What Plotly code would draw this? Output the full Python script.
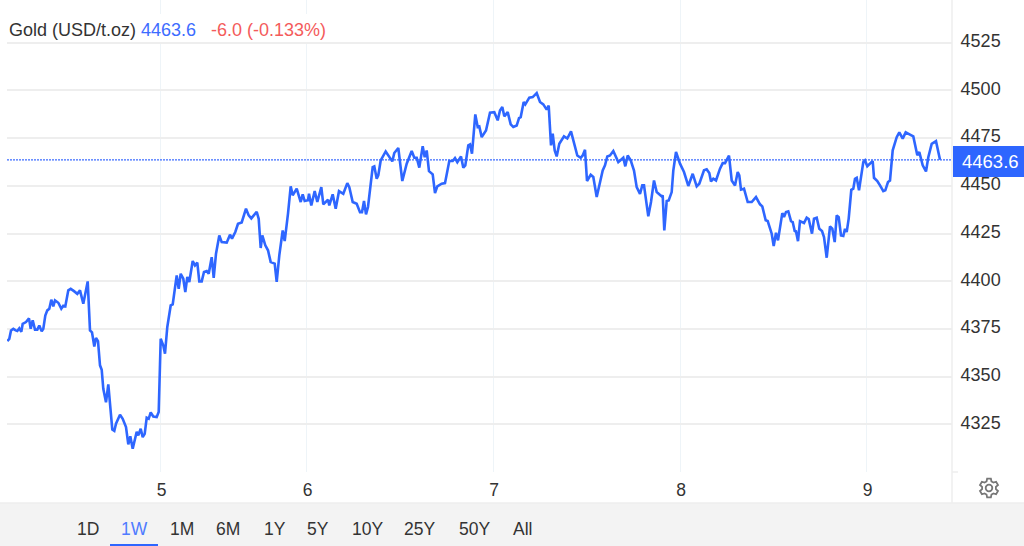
import math
import plotly.graph_objects as go

session_pos = [7.3,9.3,11,13.3,15.7,17.3,19.3,21.3,22.7,26,29,30.7,32.7,35,37.3,39.3,41.7,43.3,45.3,47.3,49.3,51.3,53.3,55,58.3,61.3,63.3,65.3,68.3,70.7,74,77.3,80,83.3,87.7,90,92,94.3,96,98,100,101.7,103.3,106,108.3,110.7,112.3,114.3,116,120,122.7,126,128.3,130.3,132.7,136.7,138.3,140.7,142.7,144.7,146.7,148.7,150.7,153.3,156.7,158.7,160.7,163.3,165,
167.3,170.7,172.7,176.7,178.7,180.7,183.3,185.3,187.3,189.3,192.7,195,197.3,199.3,201.7,204,206.7,208.7,211.7,213.7,216,219.3,221.7,226.7,230,232,235.3,238,241.7,243.3,246,248.7,251.3,256.7,258.7,260.7,262.3,265.3,268,270.7,274.7,276.7,279.3,282.7,284.7,288,290.7,292.7,296.7,300.7,302.7,304.7,308,309,311.3,314.7,317.3,321.3,323.3,328,329.3,332.7,335.7,339,
343.3,347.3,349.3,352.7,356.7,360,362,364,366,368,372.7,374.3,376.7,378.3,380.7,385.7,389.3,392.3,394.3,398.3,402.3,406.7,411.7,414.3,416.7,419.3,422.7,424.7,426.7,429,432.7,435,437.3,441.7,445,449.3,452.7,455,457.3,461,463.3,465.3,468.3,470,472,475.3,477.7,479.3,481.7,486,490,494.3,497.7,500,502.3,504.3,507.7,510.7,513.3,516.7,519,520.7,523.7,525.3,529.3,532.7,536.7,540,543.3,546.7,548.7,551,552.7,554.7,556.7,559.3,564,567.3,571,575,577.3,580.7,582.7,585,587,590.7,593.3,596.7,600,602.7,605,607.3,610,613.3,618.3,623.3,625.3,627.7,630.7,634,636.7,640,642.3,644,648.3,651,654,656.7,661.7,662.7,664.3,666.7,668.7,671.7,673.3,676,
680,684,688.3,690,692.7,696.7,699.3,704,706.7,709.3,711,713.3,716,720,722.7,725,729,731.7,735,737.7,739.3,741,744,747.7,751.7,756,760,762.3,765.7,767.7,770.7,771.7,773.7,776,778,782.3,784,786,788.3,791,792.7,794.7,796,798,800,804,806.7,808.7,812,814,816.7,819.3,822,824,826.7,830,832.3,834.7,836.7,838.7,841,843.3,845,846.7,848.7,851.3,853.3,855,856.7,859,863.3,865,867.3,872.7,874,877.3,880,883.3,885.3,888,890,892.7,896.7,899.3,902.7,905.7,910,913.3,917.3,919.3,922.7,926,928.3,931.7,936,940]

gold_price = [4368.6,4369.8,4374.2,4375,4374.2,4373.9,4375.3,4373.5,4377.7,4378.6,4380.5,4375.1,4379.5,4374.6,4374.6,4376.8,4373.7,4375,4382,4384.7,4385.6,4390.3,4386.8,4389.9,4388.7,4385.6,4387.1,4386.8,4395.2,4396,4394.8,4393.4,4395.2,4388.2,4399.9,4374.2,4373.2,4365.8,4370.2,4368.6,4355.9,4353.6,4343.6,4336.5,4345.9,4332.3,4322.2,4321.5,4325.3,4330,4327.9,4323.6,4314.5,4318.7,4312.2,4321.1,4319.2,4322.7,4318.3,4320,4328.4,4327.9,4331.2,4329.1,4328.8,4331.4,4369.8,4366.3,4362,
4376,4387.3,4387.8,4403,4396,4403.9,4401.3,4394.3,4402.2,4399.6,4410.6,4408.3,4409.7,4399.9,4399.9,4404.8,4405.3,4403.9,4412.6,4401.8,4414.4,4424,4420.5,4420.2,4424.4,4422.3,4425.8,4430.1,4430.8,4433.6,4438,4434.5,4432.9,4436.4,4432.7,4417.4,4424,4418.8,4416.2,4410,4409.2,4399.6,4413.5,4426.6,4421,4435.4,4449.7,4445,4448.5,4441.5,4445.5,4442,4442.4,4445.8,4439.7,4447.2,4441.5,4449.3,4440.3,4442.7,4439.7,4445.5,4438,4447.2,
4445.8,4451.4,4449.3,4441.5,4440.6,4436.2,4436.2,4442,4435,4438.9,4459.8,4460.2,4453.7,4455.5,4463.3,4468,4465,4462.8,4467.2,4469.8,4452.5,4461.6,4468.2,4464.7,4464.7,4459.5,4470.8,4465,4468.5,4457.7,4456,4446.2,4449.7,4451.1,4451.4,4463,4463,4464.5,4462.4,4465.4,4459.5,4460.7,4471.2,4471.7,4466.8,4487.4,4480.8,4481.1,4475.5,4479,4488.3,4488.6,4484.3,4489.5,4491.3,4486.4,4488.6,4482.2,4480.8,4481.6,4485.5,4486,4493.9,4492.7,4496.2,4496.5,4498.6,4493.9,4492.7,4489.9,4492,4471.2,4477.3,4468.5,4465.4,4472,4475.9,4474.8,4478.5,4471.2,4465.9,4464.7,4465.9,4468.9,4452.5,4455.8,4454.6,4444.1,4452.8,4458.1,4460.7,4465.4,4465.9,4468.2,4462.4,4464.7,4460.2,4465.9,4463.3,4458,4449.3,4445.8,4450.2,4450.2,4434,4441.5,4452.8,4446.7,4444.4,4445,4426.6,4442,4442.3,4446.7,4458,4467.7,
4461.6,4457.2,4449.9,4452,4456.3,4449.7,4451.1,4458.1,4458.6,4456.7,4452.3,4453.7,4452.8,4459,4461.9,4461.9,4465.8,4452.8,4450.2,4457.2,4455.5,4448,4448.5,4441.5,4441.5,4444.1,4440.3,4439.2,4431.9,4431.5,4426.6,4424.9,4418.4,4425.4,4421.4,4435.7,4433.6,4436.2,4436.6,4431.5,4431,4426.3,4426.1,4421,4431.5,4430.5,4433.3,4432.6,4424.9,4432.8,4433.3,4427.5,4426.3,4423.1,4412.3,4428.7,4427.5,4420.5,4434.5,4433.6,4424,4423.7,4427.5,4425.8,4432.8,4447.9,4448.5,4453.7,4454.2,4447.6,4462.4,4463.3,4460.3,4463,4454.2,4452.5,4450.2,4447.2,4447.6,4452,4452.8,4468.6,4475.5,4478,4474.7,4478,4476.8,4475.9,4466,4467.7,4460.7,4457.5,4465,4472,4473.4,4463.7]

last_price = 4463.6
y_ticks = [4300, 4325, 4350, 4375, 4400, 4425, 4450, 4475, 4500, 4525]
y_labels = ["", "4325", "4350", "4375", "4400", "4425", "4450", "4475", "4500", "4525"]
day_ticks = [160.5, 306.5, 493, 680, 866.7]
day_labels = ["5", "6", "7", "8", "9"]
range_buttons = ["1D", "1W", "1M", "6M", "1Y", "5Y", "10Y", "25Y", "50Y", "All"]
button_px = [88, 134, 182, 228, 275, 318, 367, 419, 474, 522]

W, H = 1024, 546
FONT = "Liberation Sans, Arial, sans-serif"
BLUE = "#2e66ff"
TXT = "#333333"

def px(x): return x / W
def py(y): return 1 - y / H

def rect(x0, y0, x1, y1, fill, layer="above"):
    return dict(type="rect", xref="paper", yref="paper", x0=px(x0), x1=px(x1), y0=py(y0), y1=py(y1),
                fillcolor=fill, line_width=0, layer=layer)

def seg(x0, y0, x1, y1, color, w=1):
    return dict(type="line", xref="paper", yref="paper", x0=px(x0), x1=px(x1), y0=py(y0), y1=py(y1),
                line=dict(color=color, width=w))

def gear_path(cx, cy, r_out, r_in, teeth=6):
    pts = []
    for i in range(teeth):
        a = 2 * math.pi * i / teeth - math.pi / 2
        for da, r in ((-0.36, r_in), (-0.2, r_out), (0.2, r_out), (0.36, r_in)):
            pts.append((cx + r * math.cos(a + da), cy + r * math.sin(a + da)))
    return "M " + " L ".join(f"{px(x):.5f},{py(y):.5f}" for x, y in pts) + " Z"

fig = go.Figure()
fig.add_trace(go.Scatter(x=[7, 952], y=[last_price, last_price], mode="lines", hoverinfo="skip",
                         line=dict(color="#3d6cff", width=1.2, dash="2px,1px")))
fig.add_trace(go.Scatter(x=session_pos, y=gold_price, mode="lines", name="Gold",
                         line=dict(color=BLUE, width=2.6, shape="linear")))

shapes = [
    rect(0, 503, W, H, "#f3f3f3"),
    rect(110, 544, 158, H, BLUE),
    seg(0, 503, W, 503, "#eeeeee", 1.5),
    seg(952, 0, 952, 503, "#eeeeee", 1.5),
    seg(952, 472, 958, 472, "#eeeeee", 1.5),
    rect(8, 14, 335, 42, "#ffffff"),
    rect(953, 146, W, 177, BLUE),
    dict(type="path", xref="paper", yref="paper", path=gear_path(989, 488, 9.5, 7),
         line=dict(color="#777777", width=1.8), fillcolor="rgba(0,0,0,0)"),
    dict(type="circle", xref="paper", yref="paper", x0=px(985.7), x1=px(992.3), y0=py(491.3), y1=py(484.7),
         line=dict(color="#777777", width=1.8)),
]

def note(x, y, text, color=TXT, anchor="left", size=18):
    return dict(xref="paper", yref="paper", x=px(x), y=py(y), text=text, showarrow=False, xanchor=anchor,
                yanchor="middle", font=dict(family=FONT, size=size, color=color), borderpad=0, borderwidth=0)

notes = [
    note(9, 29.5, "Gold (USD/t.oz)"),
    note(141, 29.5, f"{last_price}", "#3d6cff"),
    note(211, 29.5, "-6.0 (-0.133%)", "#f45b5b"),
    note(990, 161.5, f"{last_price}", "#ffffff", "center", 18.5),
]
for label, bx in zip(range_buttons, button_px):
    notes.append(note(bx, 529, label, "#4f7bff" if label == "1W" else TXT, "center", 17.5))

fig.update_layout(
    width=W, height=H, margin=dict(l=0, r=0, t=0, b=0),
    paper_bgcolor="#ffffff", plot_bgcolor="#ffffff", showlegend=False,
    font=dict(family=FONT, size=18, color=TXT),
    xaxis=dict(domain=[px(7), px(952)], range=[7, 952], tickmode="array", tickvals=day_ticks, ticktext=day_labels,
               showgrid=True, gridcolor="#eef4f8", gridwidth=1, zeroline=False, showline=False,
               ticks="outside", ticklen=2, tickcolor="rgba(0,0,0,0)", tickfont=dict(size=17.5, color=TXT),
               ticklabelshift=1),
    yaxis=dict(domain=[py(472), 1], range=[4300, 4300 + 472 / 1.908], side="right", tickmode="array",
               tickvals=y_ticks, ticktext=y_labels, showgrid=True, gridcolor="#eeeeee", gridwidth=1.5,
               zeroline=False, showline=False, ticks="outside", ticklen=4, tickcolor="rgba(0,0,0,0)",
               tickfont=dict(size=18, color=TXT), ticklabelshift=-2),
    shapes=shapes, annotations=notes,
)

fig.write_html("out.html", config={"displayModeBar": False},
               post_script="document.body.style.margin='0';document.body.style.overflow='hidden';")
